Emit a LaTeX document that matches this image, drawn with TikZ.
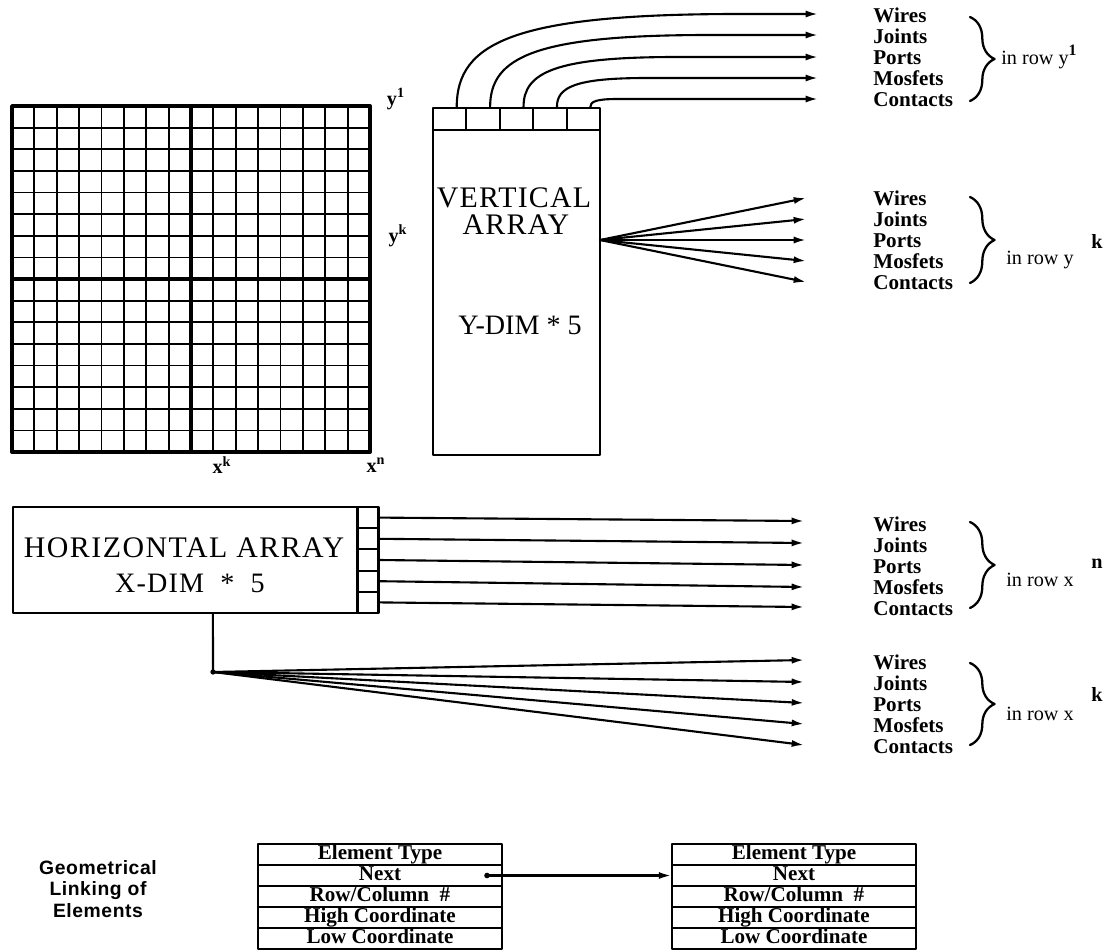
\documentclass[tikz,border=0pt]{standalone}
\usepackage{fontspec}
\setmainfont{Liberation Serif}
\newfontfamily\labelsans{Liberation Sans}
\usetikzlibrary{arrows.meta,decorations.pathreplacing,calc}

\begin{document}
\begin{tikzpicture}[x=0.02cm,y=-0.02cm,line join=round,line cap=round,
  thin grid/.style={line width=1pt},
  thick grid/.style={line width=2.2pt},
  box/.style={draw,line width=1.2pt,inner sep=0pt},
  wire/.style={line width=1.2pt,-{Latex[length=7pt,width=4pt]}},
  axislabel/.style={inner sep=0pt,font=\bfseries\fontsize{11.5}{12}\selectfont},
  bigtitle/.style={inner sep=0pt,font=\fontsize{17}{18}\selectfont\addfontfeature{LetterSpace=4}},
  dimtext/.style={inner sep=0pt,font=\fontsize{16}{18}\selectfont},
  itemlist/.style={align=left,anchor=west,inner sep=0pt,font=\bfseries\fontsize{12}{12}\selectfont},
  rowtext/.style={anchor=west,inner sep=0pt,font=\fontsize{11.5}{12}\selectfont},
  bracket/.style={decorate,decoration={brace,amplitude=14pt},line width=1.3pt},
  rowbox/.style={draw,line width=1pt,minimum width=4.88cm,minimum height=0.42cm,inner sep=0pt,
    text height=8pt,text depth=2pt,font=\bfseries\fontsize{12}{12}\selectfont}]
\useasboundingbox (0,0) rectangle (1110,951);

% the grid
\foreach \i in {1,...,15}{
  \draw[thin grid] ({12+\i*22.375},106) -- ({12+\i*22.375},452);
  \draw[thin grid] (12,{106+\i*21.625}) -- (370,{106+\i*21.625});
}
\draw[thick grid] (12,106) rectangle (370,452)
  (191,106) -- (191,452) (12,279) -- (370,279);
\node[axislabel] (ly1) at (396,99) {y\textsuperscript{1}};
\node[axislabel] (lyk) at (398,236) {y\textsuperscript{k}};
\node[axislabel] (lxk) at (222,465) {x\textsuperscript{k}};
\node[axislabel] (lxn) at (376,465) {x\textsuperscript{n}};

% vertical array
\node[box,minimum width=3.34cm,minimum height=6.5cm] (varr) at (516.5,292.5) {};
\foreach \i in {1,...,5}
  \node[box,minimum width=0.668cm,minimum height=0.44cm] (vc\i) at ({433+(\i-0.5)*33.4},119) {};
\node[bigtitle] (vtitle) at (514,198) {VERTICAL};
\node[bigtitle] (vtitle2) at (516,225) {ARRAY};
\node[dimtext] (vdim) at (520,325) {Y-DIM * 5};
\foreach \i/\ye in {1/14,2/35,3/57,4/78,5/99}{
  \coordinate (yo\i) at (818,\ye);
  \pgfmathsetmacro{\xs}{433+(\i-0.5)*33.4+7}
  \pgfmathsetmacro{\dy}{108-\ye}
  \draw[wire] ([xshift=4pt]vc\i.north) .. controls (\xs,{\ye+0.3*\dy}) and ({\xs+0.62*\dy},\ye)
    .. ({\xs+3*\dy},\ye) -- (yo\i);
}
\coordinate (vfan) at (600,240);
\foreach \i/\ye in {1/198,2/219,3/240,4/261,5/282}{
  \coordinate (yk\i) at (806,\ye);
  \draw[wire] (vfan) -- (yk\i);
}

% horizontal array
\node[box,minimum width=6.9cm,minimum height=2.12cm] (harr) at (185.5,560) {};
\foreach \i in {1,...,5}
  \node[box,minimum width=0.42cm,minimum height=0.424cm] (hc\i) at (368,{507+(\i-0.5)*21.2}) {};
\node[bigtitle,font=\fontsize{17}{18}\selectfont\addfontfeature{LetterSpace=5}] (htitle) at (184,548) {HORIZONTAL ARRAY};
\node[dimtext,font=\fontsize{16}{18}\selectfont\addfontfeature{LetterSpace=4}] (hdim) at (190,583) {X-DIM\ \ *\ \ 5};
\foreach \i/\ye in {1/521,2/543,3/565,4/587,5/607}{
  \coordinate (xn\i) at (804,\ye);
  \draw[wire] (hc\i.east) -- (xn\i);
}
\coordinate (hfan) at (213,672);
\draw[line width=1.2pt] ([xshift=15.6pt]harr.south) -- (hfan);
\fill (hfan) circle (1.5pt);
\foreach \i/\ye in {1/660,2/682,3/703,4/724,5/745}{
  \coordinate (xk\i) at (804,\ye);
  \draw[wire] (hfan) -- (xk\i);
}

% element lists
\foreach \grp/\yc in {a/57,b/240,c/566,d/704}
  \node[itemlist] (list\grp) at (873,\yc) {Wires\\Joints\\Ports\\Mosfets\\Contacts};
\draw[bracket] (970,17) -- (970,101);
\draw[bracket] (970,197) -- (970,283);
\draw[bracket] (970,522) -- (970,608);
\draw[bracket] (970,663) -- (970,745);
\node[rowtext] (rya) at (1001,57) {in row y\raisebox{5pt}{\fontsize{9}{9}\selectfont\bfseries 1}};
\node[rowtext] (ryk) at (1006,252) {in row y\hspace{10pt}\raisebox{9pt}{\bfseries k}};
\node[rowtext] (rxn) at (1006,573) {in row x\hspace{10pt}\raisebox{10pt}{\bfseries n}};
\node[rowtext] (rxk) at (1006,704) {in row x\hspace{10pt}\raisebox{11pt}{\bfseries k}};

% linked records
\node[align=center,inner sep=0pt,font=\labelsans\bfseries\fontsize{11}{12}\selectfont\addfontfeature{LetterSpace=3}] (caption) at (98,889)
  {Geometrical\\Linking of\\Elements};
\foreach \j/\txt in {1/Element Type,2/Next,3/{Row/Column\ \ \#},4/High Coordinate,5/Low Coordinate}{
  \node[rowbox] (ta\j) at (380,{844+(\j-0.5)*21}) {\txt};
  \node[rowbox] (tb\j) at (794,{844+(\j-0.5)*21}) {\txt};
}
\coordinate (nextptr) at ([xshift=-9pt]ta2.east);
\fill (nextptr) circle (1.6pt);
\draw[wire] (nextptr) -- (tb2.west);
\end{tikzpicture}
\end{document}
